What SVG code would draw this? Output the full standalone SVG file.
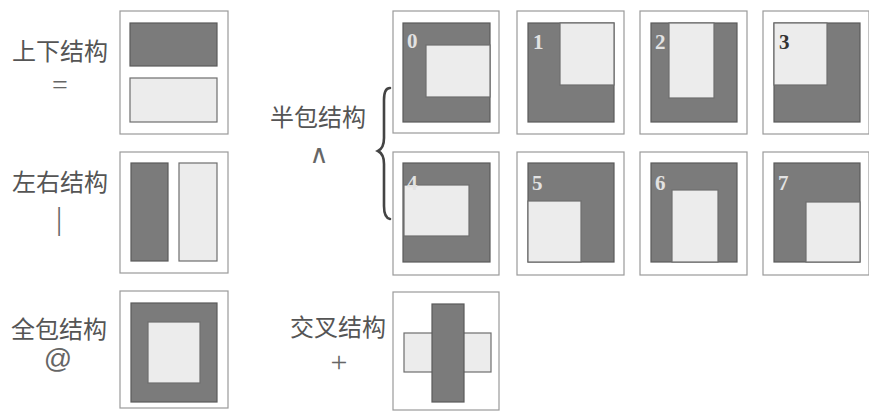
<svg xmlns="http://www.w3.org/2000/svg" width="869" height="412" viewBox="0 0 869 412">
<style>
.frame{fill:#fff;stroke:#9a9a9a;stroke-width:1.2}
.dk{fill:#7b7b7b;stroke:#5a5a5a;stroke-width:1.2}
.lt{fill:#ececec;stroke:#6e6e6e;stroke-width:1.2}
.cn{font-family:"Noto Sans CJK SC","Noto Sans",sans-serif;font-size:24px;fill:#555;text-anchor:middle}
.sym{font-family:"Liberation Serif",serif;fill:#666;text-anchor:middle}
.num{font-family:"Liberation Serif",serif;font-size:21px;font-weight:bold;fill:#e2e2e2}
</style>
<rect width="869" height="412" fill="#fff"/>
<g id="label-updown"><text class="cn" x="60" y="60">上下结构</text><text class="sym" x="60" y="94" font-size="28">=</text></g>
<g id="box-updown"><rect class="frame" x="120" y="11" width="108" height="123"/><rect class="dk" x="130" y="23" width="87" height="43"/><rect class="lt" x="130" y="78" width="87" height="44"/></g>
<g id="label-leftright"><text class="cn" x="60" y="191">左右结构</text><text class="sym" x="59" y="229" font-size="31">|</text></g>
<g id="box-leftright"><rect class="frame" x="120" y="152" width="108" height="121"/><rect class="dk" x="131" y="163" width="37" height="98"/><rect class="lt" x="179" y="163" width="38" height="98"/></g>
<g id="label-full"><text class="cn" x="59" y="338">全包结构</text><text class="sym" x="58" y="368" font-size="28" style="font-family:'Liberation Sans',sans-serif">@</text></g>
<g id="box-full"><rect class="frame" x="120" y="291" width="108" height="117"/><rect class="dk" x="131" y="303" width="86" height="99"/><rect class="lt" x="148" y="322" width="52" height="61"/></g>
<g id="label-half"><text class="cn" x="318" y="126">半包结构</text><text class="sym" x="319" y="163" font-size="26" style="font-family:'DejaVu Sans',sans-serif">∧</text></g>
<g id="connectors"><path d="M390,88 C385,88 384,93 384,100 L384,138 C384,145 382,149 378,151 C382,153 384,157 384,164 L384,206 C384,213 385,218 390,219" fill="none" stroke="#444" stroke-width="2.6" stroke-linecap="round"/></g>
<g id="half-0"><rect class="frame" x="393" y="11" width="106" height="122"/><rect class="dk" x="403" y="23" width="87" height="99"/><rect class="lt" x="426" y="45" width="64" height="52"/><text class="num" x="407" y="48">0</text></g>
<g id="half-1"><rect class="frame" x="517" y="11" width="107" height="123"/><rect class="dk" x="528" y="23" width="86" height="99"/><rect class="lt" x="560" y="23" width="54" height="62"/><text class="num" x="533" y="49">1</text></g>
<g id="half-2"><rect class="frame" x="640" y="11" width="107" height="123"/><rect class="dk" x="651" y="23" width="86" height="99"/><rect class="lt" x="669" y="23" width="45" height="75"/><text class="num" x="655" y="49">2</text></g>
<g id="half-3"><rect class="frame" x="763" y="11" width="106" height="123"/><rect class="dk" x="774" y="23" width="86" height="99"/><rect class="lt" x="774" y="23" width="53" height="62"/><text class="num" x="779" y="49" style="fill:#333">3</text></g>
<g id="half-4"><rect class="frame" x="393" y="152" width="106" height="123"/><rect class="dk" x="403" y="163" width="87" height="99"/><rect class="lt" x="404" y="185" width="65" height="51"/><text class="num" x="407" y="190">4</text></g>
<g id="half-5"><rect class="frame" x="517" y="152" width="107" height="123"/><rect class="dk" x="528" y="163" width="86" height="99"/><rect class="lt" x="528" y="201" width="53" height="61"/><text class="num" x="532" y="190">5</text></g>
<g id="half-6"><rect class="frame" x="640" y="152" width="107" height="123"/><rect class="dk" x="651" y="163" width="86" height="99"/><rect class="lt" x="672" y="190" width="46" height="72"/><text class="num" x="655" y="190">6</text></g>
<g id="half-7"><rect class="frame" x="763" y="152" width="106" height="123"/><rect class="dk" x="774" y="163" width="86" height="99"/><rect class="lt" x="806" y="202" width="54" height="60"/><text class="num" x="778" y="190">7</text></g>
<g id="label-cross"><text class="cn" x="338" y="336">交叉结构</text><text class="sym" x="339" y="372" font-size="30">+</text></g>
<g id="box-cross"><rect class="frame" x="393" y="292" width="106" height="118"/><rect class="lt" x="404" y="333" width="87" height="39"/><rect class="dk" x="432" y="304" width="32" height="98"/></g>
</svg>
